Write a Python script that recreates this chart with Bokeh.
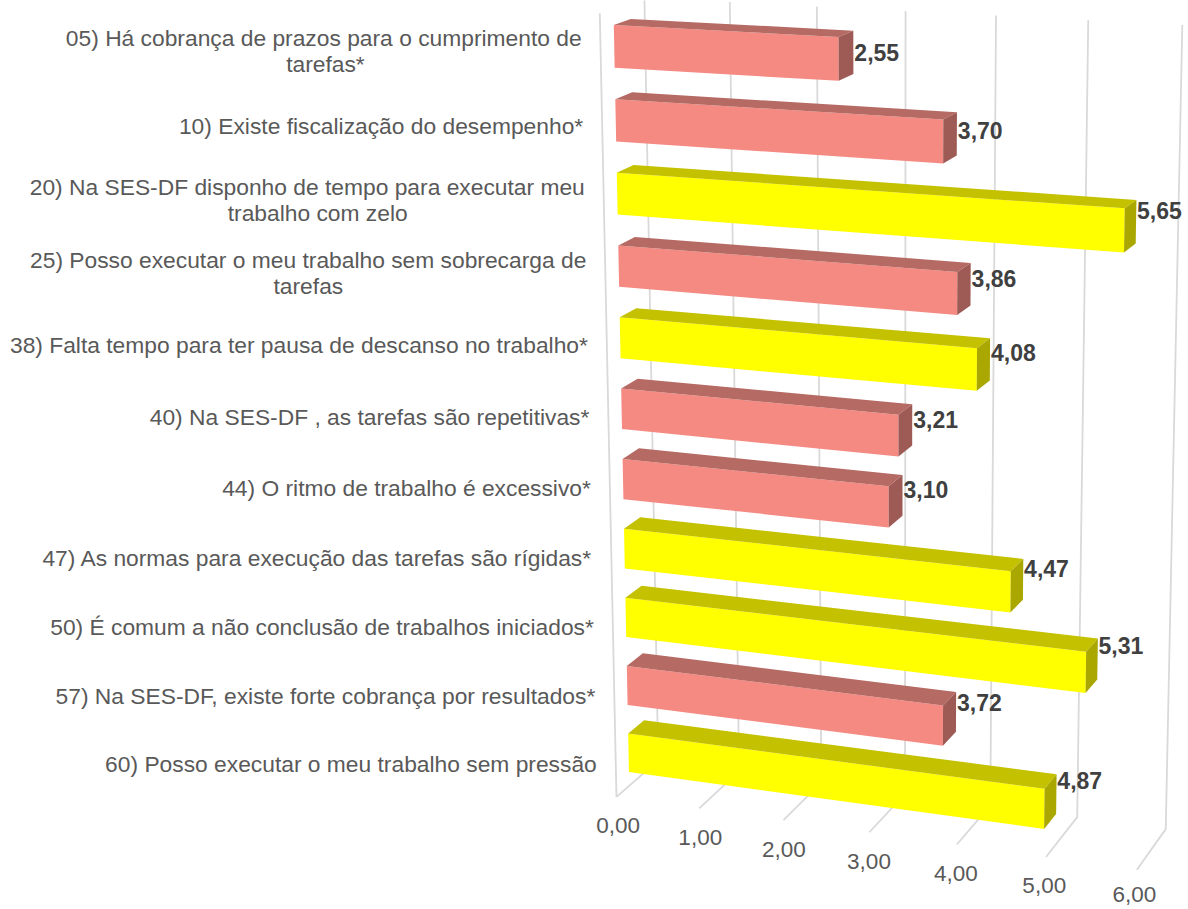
import numpy as np
from bokeh.core.properties import value
from bokeh.embed import file_html
from bokeh.models import ColumnDataSource, Range1d
from bokeh.plotting import figure
from bokeh.resources import INLINE

# Survey items, top to bottom
categories = [
    "05) Há cobrança de prazos para o cumprimento de\ntarefas*",
    "10) Existe fiscalização do desempenho*",
    "20) Na SES-DF disponho de tempo para executar meu\ntrabalho com zelo",
    "25) Posso executar o meu trabalho sem sobrecarga de\ntarefas",
    "38) Falta tempo para ter pausa de descanso no trabalho*",
    "40) Na SES-DF , as tarefas são repetitivas*",
    "44) O ritmo de trabalho é excessivo*",
    "47) As normas para execução das tarefas são rígidas*",
    "50) É comum a não conclusão de trabalhos iniciados*",
    "57) Na SES-DF, existe forte cobrança por resultados*",
    "60) Posso executar o meu trabalho sem pressão",
]
scores = [2.55, 3.70, 5.65, 3.86, 4.08, 3.21, 3.10, 4.47, 5.31, 3.72, 4.87]
severity = ["red", "red", "yellow", "red", "yellow", "red", "red",
            "yellow", "yellow", "red", "yellow"]
axis_ticks = [0, 1, 2, 3, 4, 5, 6]

# Face colours of each bar: front, top, end cap
FACES = {
    "red": ("#F58A83", "#B66A64", "#9E5A55"),
    "yellow": ("#FFFF00", "#C4C200", "#A9A700"),
}
GRID = "#D9D9D9"
FONT = value("Liberation Sans")

# Camera calibration: where the box (value, row 0..1, depth 0..1) lands on the page
frame_world = []
frame_page = []
front_bottom = [(617, 797), (699, 809), (783, 820), (869, 832), (956, 844), (1045, 856), (1136, 868)]
back_bottom = [(657, 758), (737, 770), (821, 782), (905, 794), (991, 806), (1077, 818), (1165, 828)]
back_top = [(644, -2), (729, 2), (817, 6), (905, 10), (996, 15), (1087, 20), (1182, 24)]
for v in axis_ticks:
    frame_world += [(v, 1, 0), (v, 1, 1), (v, 0, 1)]
    frame_page += [front_bottom[v], back_bottom[v], back_top[v]]
frame_world.append((0, 0, 0))
frame_page.append((599, 12))

rows = []
for (X, Y, Z), (u, w) in zip(frame_world, frame_page):
    rows.append([X, Y, Z, 1, 0, 0, 0, 0, -u * X, -u * Y, -u * Z, -u])
    rows.append([0, 0, 0, 0, X, Y, Z, 1, -w * X, -w * Y, -w * Z, -w])
CAMERA = np.linalg.svd(np.array(rows, float))[2][-1].reshape(3, 4)


def project(v, row, depth):
    h = CAMERA @ np.array([v, row, depth, 1.0])
    return h[0] / h[2], h[1] / h[2]


N = len(categories)
BAR_SHARE = 0.575
BAR_CENTRE = 0.508
DEPTH_NEAR, DEPTH_FAR = 0.30, 0.68


def bar_faces(v, i):
    top = (i + BAR_CENTRE - BAR_SHARE / 2) / N
    bottom = (i + BAR_CENTRE + BAR_SHARE / 2) / N
    front = [(0, top, DEPTH_NEAR), (v, top, DEPTH_NEAR), (v, bottom, DEPTH_NEAR), (0, bottom, DEPTH_NEAR)]
    upper = [(0, top, DEPTH_NEAR), (0, top, DEPTH_FAR), (v, top, DEPTH_FAR), (v, top, DEPTH_NEAR)]
    cap = [(v, top, DEPTH_NEAR), (v, top, DEPTH_FAR), (v, bottom, DEPTH_FAR), (v, bottom, DEPTH_NEAR)]
    return front, upper, cap


p = figure(width=1188, height=909, output_backend="svg", toolbar_location=None,
           x_range=Range1d(0, 1188), y_range=Range1d(909, 0),
           min_border=0, outline_line_color=None, background_fill_color="white")
p.xaxis.visible = False
p.yaxis.visible = False
p.grid.visible = False

# Wall and floor rules
grid_x, grid_y = [], []
for v in axis_ticks:
    pts = [project(v, 0, 1), project(v, 1, 1), project(v, 1, 0)]
    grid_x.append([q[0] for q in pts])
    grid_y.append([q[1] for q in pts])
edge = [project(0, 0, 0), project(0, 1, 0)]
grid_x.append([q[0] for q in edge])
grid_y.append([q[1] for q in edge])
p.multi_line(grid_x, grid_y, line_color=GRID, line_width=1.8)

# Bars, drawn from their scores
xs, ys, colours = [], [], []
for i, (score, sev) in enumerate(zip(scores, severity)):
    for face, colour in zip(bar_faces(score, i), FACES[sev]):
        pts = [project(*c) for c in face]
        xs.append([q[0] for q in pts])
        ys.append([q[1] for q in pts])
        colours.append(colour)
p.patches("xs", "ys", fill_color="colours", line_color=None,
          source=ColumnDataSource(dict(xs=xs, ys=ys, colours=colours)))

# Row captions, right aligned to the slanted front edge; wrapped lines are centred
LINE_GAP = 26
CHAR_W = 5.45
cap_x, cap_y, cap_t, cap_a = [], [], [], []
for i, label in enumerate(categories):
    row = (i + 0.5) / N
    right = project(0, row, 0)[0] - 19
    mid = project(0, row, 0.33)[1] + 6 + 0.7 * i
    lines = label.split("\n")
    if len(lines) == 1:
        cap_x.append(right); cap_y.append(mid); cap_t.append(lines[0]); cap_a.append("right")
    else:
        half = CHAR_W * len(lines[0])
        cap_x.append(right); cap_y.append(mid - LINE_GAP / 2); cap_t.append(lines[0]); cap_a.append("right")
        cap_x.append(right - half); cap_y.append(mid + LINE_GAP / 2); cap_t.append(lines[1]); cap_a.append("center")
p.text("x", "y", "t", text_align="a", text_baseline="middle", text_font=FONT,
       text_font_size="22.8px", text_color="#595959",
       source=ColumnDataSource(dict(x=cap_x, y=cap_y, t=cap_t, a=cap_a)))

# Score labels beside each end cap
lab_x, lab_y, lab_t = [], [], []
for i, score in enumerate(scores):
    cx, cy = project(score, (i + 0.5) / N, 0.68)
    lab_x.append(cx + 1)
    lab_y.append(cy - 1.9 - 0.7 * i - 3.2 * (score - 3.5))
    lab_t.append(f"{score:.2f}".replace(".", ","))
p.text(lab_x, lab_y, lab_t, text_align="left", text_baseline="middle", text_font=FONT,
       text_font_style="bold", text_font_size="23px", text_color="#404040")

# Value axis labels along the front of the floor, kept clear of the page's lower edge
tick_x, tick_y, tick_t = [], [], []
for v in axis_ticks:
    tx, ty = project(v, 1, 0)
    tick_x.append(tx + (2.5 - v) * 0.7)
    tick_y.append(min(ty + 29, 894))
    tick_t.append(f"{v:.2f}".replace(".", ","))
p.text(tick_x, tick_y, tick_t, text_align="center", text_baseline="middle", text_font=FONT,
       text_font_size="22.5px", text_color="#595959")

open("out.html", "w").write(file_html(p, INLINE))
